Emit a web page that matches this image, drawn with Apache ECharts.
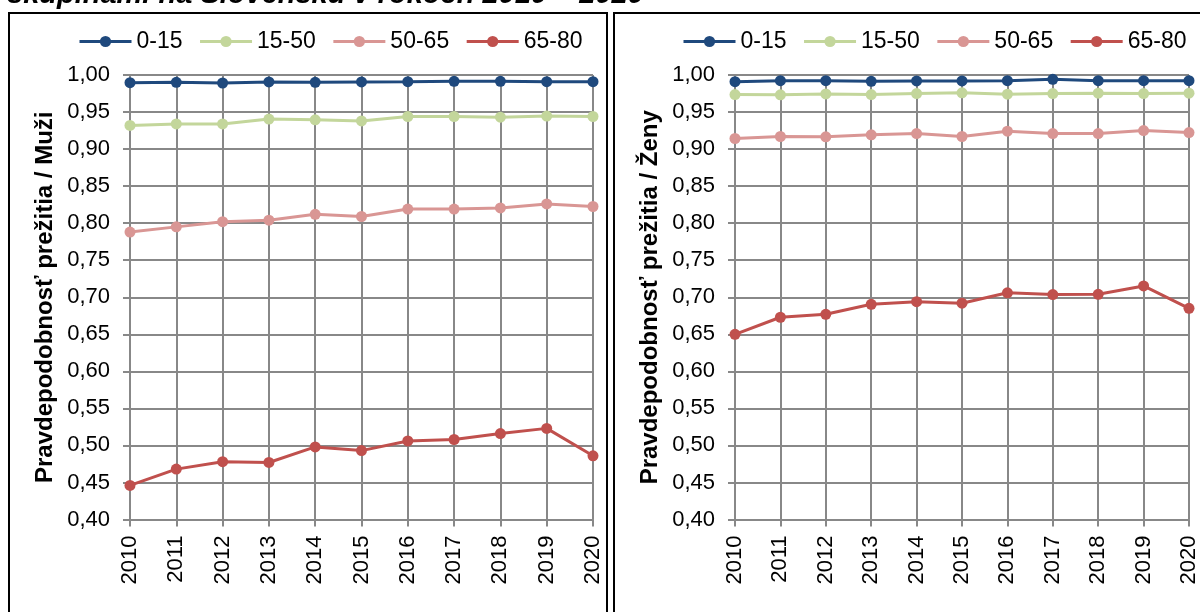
<!DOCTYPE html>
<html>
<head>
<meta charset="utf-8">
<script src="https://cdn.jsdelivr.net/npm/echarts@6/dist/echarts.min.js"></script>
<style>
html,body{margin:0;padding:0;background:#fff;}
#c{width:1200px;height:612px;}
</style>
</head>
<body>
<div id="c"></div>
<script>
var years = ['2010','2011','2012','2013','2014','2015','2016','2017','2018','2019','2020'];
var seriesNames = ['0-15','15-50','50-65','65-80'];
var yTicks = [0.40,0.45,0.50,0.55,0.60,0.65,0.70,0.75,0.80,0.85,0.90,0.95,1.00];

// Muži
var m0_15  = [0.9897,0.9901,0.9892,0.9906,0.9901,0.9906,0.991,0.9915,0.9915,0.991,0.991];
var m15_50 = [0.932,0.934,0.934,0.9405,0.9395,0.938,0.944,0.944,0.943,0.9445,0.944];
var m50_65 = [0.788,0.795,0.802,0.804,0.812,0.809,0.819,0.819,0.8205,0.826,0.8225];
var m65_80 = [0.446,0.468,0.478,0.477,0.498,0.493,0.506,0.508,0.516,0.523,0.486];

// Ženy
var z0_15  = [0.991,0.9924,0.9924,0.9915,0.992,0.992,0.9924,0.9942,0.9924,0.9924,0.9924];
var z15_50 = [0.9736,0.9732,0.9745,0.9736,0.975,0.9759,0.9741,0.975,0.9754,0.975,0.9754];
var z50_65 = [0.9143,0.917,0.9165,0.9192,0.921,0.917,0.9241,0.921,0.921,0.925,0.9223];
var z65_80 = [0.650,0.673,0.677,0.6905,0.694,0.692,0.706,0.7036,0.704,0.7153,0.685];

var colors = ['#1F497D','#C3D69B','#D99694','#C0504D'];
var FONT = 'Liberation Sans, Arial, sans-serif';
var GRIDC = '#888888';

function xAxis(gi){
  return {
    type:'category', gridIndex:gi, data:years, boundaryGap:false,
    axisLine:{show:true,lineStyle:{color:GRIDC,width:2}},
    axisTick:{show:true,length:7,alignWithLabel:true,lineStyle:{color:GRIDC,width:2}},
    axisLabel:{rotate:90,margin:16,color:'#000',fontSize:22,fontFamily:FONT},
    splitLine:{show:true,lineStyle:{color:GRIDC,width:2}}
  };
}
function yAxis(gi,name){
  return {
    type:'value', gridIndex:gi, min:0.40, max:1.00, interval:0.05,
    name:name, nameLocation:'middle', nameGap:73, nameRotate:90,
    nameTextStyle:{fontSize:24,fontWeight:'bold',color:'#000',fontFamily:FONT},
    axisLine:{show:true,lineStyle:{color:GRIDC,width:2}},
    axisTick:{show:true,length:7,lineStyle:{color:GRIDC,width:2}},
    axisLabel:{margin:20,color:'#000',fontSize:22,fontFamily:FONT,
      formatter:function(v){return v.toFixed(2).replace('.',',');}},
    splitLine:{show:true,lineStyle:{color:GRIDC,width:2}}
  };
}
function mkSeries(gi,arrs){
  return arrs.map(function(d,i){
    return {
      name:seriesNames[i], type:'line', xAxisIndex:gi, yAxisIndex:gi, data:d,
      symbol:'circle', symbolSize:11, clip:false,
      lineStyle:{color:colors[i],width:3},
      itemStyle:{color:colors[i]},
      emphasis:{disabled:true}, z:3+i
    };
  });
}
function legend(left){
  return {
    left:left, top:25, data:seriesNames, itemWidth:52, itemHeight:14, itemGap:16,
    lineStyle:{width:3},
    textStyle:{fontSize:23,color:'#000',fontFamily:FONT},
    selectedMode:false
  };
}

var chart = echarts.init(document.getElementById('c'),null,{renderer:'canvas'});
chart.setOption({
  animation:false,
  backgroundColor:'#fff',
  grid:[
    {left:130,right:607,top:75,bottom:92.5,containLabel:false},
    {left:735,right:3,top:75,bottom:92.5,containLabel:false}
  ],
  legend:[legend(73),legend(677)],
  xAxis:[xAxis(0),xAxis(1)],
  yAxis:[yAxis(0,'Pravdepodobnosť prežitia / Muži'),yAxis(1,'Pravdepodobnosť prežitia / Ženy')],
  series:mkSeries(0,[m0_15,m15_50,m50_65,m65_80]).concat(mkSeries(1,[z0_15,z15_50,z50_65,z65_80])),
  graphic:[
    {type:'rect',shape:{x:9,y:13,width:598,height:700},style:{fill:null,stroke:'#000',lineWidth:2},z:-1,silent:true},
    {type:'rect',shape:{x:614,y:13,width:700,height:700},style:{fill:null,stroke:'#000',lineWidth:2},z:-1,silent:true},
    {type:'text',x:7,y:9,style:{text:'skupinami na Slovensku v rokoch 2010 – 2020',
      font:'italic bold 29px '+FONT,fill:'#000',verticalAlign:'bottom',align:'left'},silent:true}
  ]
});
</script>
</body>
</html>
